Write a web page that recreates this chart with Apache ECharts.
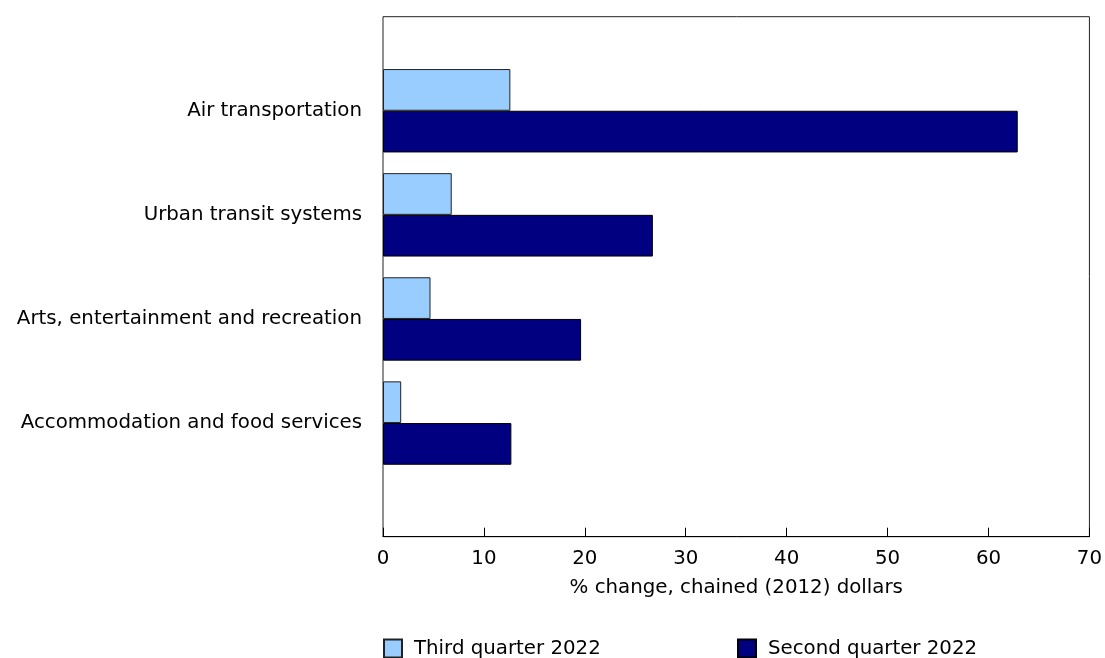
<!DOCTYPE html>
<html>
<head>
<meta charset="utf-8">
<script src="https://cdn.jsdelivr.net/npm/echarts@6/dist/echarts.min.js"></script>
<style>
  html, body { margin: 0; padding: 0; background: #fff; }
  #chart { width: 1105px; height: 658px; }
</style>
</head>
<body>
<div id="chart"></div>
<script>
// categories listed bottom to top (category y axis starts at the bottom)
const categories = [
  'Accommodation and food services',
  'Arts, entertainment and recreation',
  'Urban transit systems',
  'Air transportation'
];
const thirdQuarter = [1.8, 4.7, 6.8, 12.6];
const secondQuarter = [12.7, 19.6, 26.7, 62.8];
const seriesNames = ['Third quarter 2022', 'Second quarter 2022'];
const xTicks = { min: 0, max: 70, interval: 10 };
const xTitle = '% change, chained (2012) dollars';

const font = '"DejaVu Sans", Verdana, sans-serif';
const fs = 19.8;
const chart = echarts.init(document.getElementById('chart'));

const legendText = { fontFamily: font, fontSize: fs, color: '#000', padding: [0, 0, 0, 7] };

const option = {
  animation: false,
  textStyle: { fontFamily: font, color: '#000' },
  grid: [
    // bars
    { left: 383, right: 14.5, top: 58.7, bottom: 182.9 },
    // frame + visible x axis
    { left: 383, right: 14.5, top: 16.7, bottom: 121.3, show: true,
      borderColor: '#222', borderWidth: 1, backgroundColor: 'transparent' }
  ],
  legend: [
    { data: [seriesNames[0]], left: 383, top: 638.5, padding: 0, itemWidth: 18, itemHeight: 18,
      icon: 'rect', textStyle: legendText },
    { data: [seriesNames[1]], left: 737, top: 638.5, padding: 0, itemWidth: 18, itemHeight: 18,
      icon: 'rect', textStyle: legendText }
  ],
  xAxis: [
    { gridIndex: 0, type: 'value', min: xTicks.min, max: xTicks.max, interval: xTicks.interval, show: false },
    {
      gridIndex: 1, type: 'value', min: xTicks.min, max: xTicks.max, interval: xTicks.interval,
      name: xTitle, nameLocation: 'middle', nameGap: 41,
      nameTextStyle: { fontFamily: font, fontSize: fs, color: '#000' },
      axisLine: { show: true, lineStyle: { color: '#000', width: 1 } },
      axisTick: { show: true, inside: true, length: 9, lineStyle: { color: '#000' } },
      axisLabel: { fontFamily: font, fontSize: fs, color: '#000', margin: 12 },
      splitLine: { show: false }
    }
  ],
  yAxis: [
    {
      gridIndex: 0, type: 'category', data: categories,
      axisLine: { show: false }, axisTick: { show: false },
      axisLabel: { fontFamily: font, fontSize: fs, color: '#000', margin: 21 }
    },
    { gridIndex: 1, type: 'value', show: false }
  ],
  series: [
    {
      name: seriesNames[0], type: 'bar', xAxisIndex: 0, yAxisIndex: 0,
      data: thirdQuarter, barWidth: 41.7, barGap: '0%',
      itemStyle: { color: '#99CCFF', borderColor: '#222', borderWidth: 1 }
    },
    {
      name: seriesNames[1], type: 'bar', xAxisIndex: 0, yAxisIndex: 0,
      data: secondQuarter, barWidth: 41.7, barGap: '0%',
      itemStyle: { color: '#000080', borderColor: '#000', borderWidth: 1 }
    }
  ]
};

chart.setOption(option);
</script>
</body>
</html>
